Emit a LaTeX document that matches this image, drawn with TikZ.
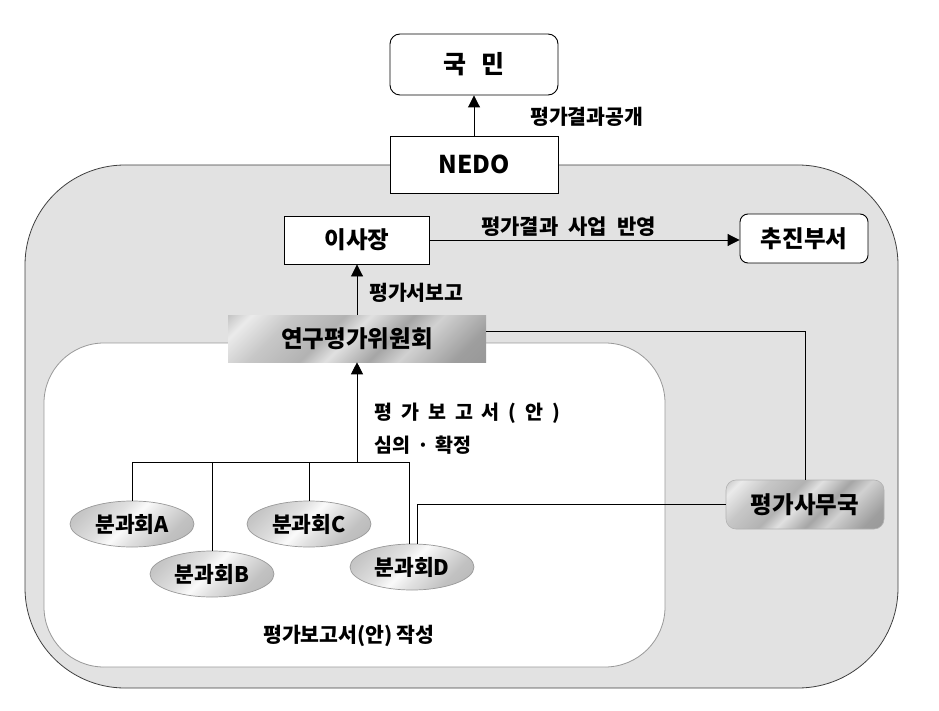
\documentclass[tikz,border=0pt]{standalone}
\usepackage{fontspec}
\setmainfont{Noto Sans CJK KR}
\usetikzlibrary{arrows.meta,shapes.geometric}
\pgfdeclarehorizontalshading{metal}{100bp}{color(0bp)=(black!45); color(22bp)=(black!38); color(35bp)=(black!18); color(42bp)=(black!35); color(52bp)=(black!12); color(58bp)=(black!30); color(70bp)=(black!22); color(80bp)=(black!8); color(88bp)=(black!30); color(100bp)=(black!35)}
\pgfdeclarehorizontalshading{metalell}{100bp}{color(0bp)=(black!34); color(30bp)=(black!24); color(45bp)=(black!10); color(52bp)=(black!2); color(60bp)=(black!12); color(75bp)=(black!22); color(100bp)=(black!34)}
\definecolor{panel}{HTML}{E2E2E2}
\tikzset{
  fs/.style={font=\fontsize{#1}{#1}\selectfont\bfseries},
  whitebox/.style={draw=black, line width=0.9pt, fill=white, inner sep=0pt},
  metalbox/.style={draw=black!30, line width=0.6pt, shading=metal, shading angle=135, inner sep=0pt},
  subc/.style={ellipse, draw=black!40, line width=0.7pt, shading=metalell, shading angle=135, inner sep=0pt, minimum width=124pt, minimum height=46pt, fs=21.5},
  link/.style={draw=black, line width=0.9pt},
  arr/.style={link, -{Triangle[length=12pt,width=12pt]}},
  lbl/.style={anchor=west, inner sep=0pt, fs=20.5}
}
\newcommand\gp{\hspace{9pt}}
\begin{document}
\begin{tikzpicture}[x=1pt,y=-1pt]
\useasboundingbox (0,0) rectangle (939,711);
% outer panel
\draw[fill=panel, draw=black!75, line width=0.8pt, rounded corners=100pt] (25,165) rectangle (898,688);
% inner panel
\draw[fill=white, draw=black!40, line width=0.8pt, rounded corners=60pt] (44,343) rectangle (665,667);
% nodes
\node[whitebox, rounded corners=10pt, minimum width=168pt, minimum height=61pt, fs=25] (kukmin) at (474,64.5) {국\hspace{15pt}민};
\node[whitebox, minimum width=168pt, minimum height=57pt, fs=24.5] (nedo) at (474,164.5) {NEDO};
\node[whitebox, minimum width=145pt, minimum height=48pt, fs=23.5] (isa) at (357,240) {이사장};
\node[whitebox, rounded corners=8pt, minimum width=128pt, minimum height=49pt, fs=23.5] (chujin) at (804,238.5) {추진부서};
\node[metalbox, draw=none, minimum width=258pt, minimum height=47pt, fs=23.5] (yeongu) at (357,338.5) {연구평가위원회};
\node[metalbox, rounded corners=10pt, minimum width=158pt, minimum height=49pt, fs=23.5] (samu) at (805,504.5) {평가사무국};
\node[subc] (bunA) at (132,524) {분과회A};
\node[subc] (bunB) at (212,574) {분과회B};
\node[subc] (bunC) at (309,524) {분과회C};
\node[subc] (bunD) at (412,567) {분과회D};
\coordinate (bus) at (357,462);
% connectors
\draw[arr] (nedo) -- (kukmin);
\draw[arr] (yeongu) -- (isa);
\draw[arr] (isa.east) -- (isa.east -| chujin.west);
\draw[link] ([yshift=7.5pt]yeongu.east) -| (samu.north);
\draw[link] (samu.west) -| ([xshift=5pt]bunD.north);
\draw[arr] (bus) -- (yeongu.south);
\draw[link] (bunA.north) -- (bunA.north |- bus) -- ([xshift=-3pt]bunD.north |- bus) -- ([xshift=-3pt]bunD.north);
\draw[link] (bunB.north) -- (bunB.north |- bus);
\draw[link] (bunC.north) -- (bunC.north |- bus);
% labels
\node[lbl] (l1) at (530,117) {평가결과공개};
\node[lbl, fs=21] (l2) at (481,227) {평가결과\hspace{10pt}사업\hspace{10pt}반영};
\node[lbl] (l3) at (369,293) {평가서보고};
\node[lbl, fs=19.5] (l4) at (374,413) {평\gp 가\gp 보\gp 고\gp 서\gp (\gp 안\gp )};
\node[lbl, fs=19.5] (l5) at (374,445) {심의\hspace{7pt}·\hspace{7pt}확정};
\node[lbl] (l6) at (263,636) {평가보고서(안)\hspace{4pt}작성};
\end{tikzpicture}
\end{document}
